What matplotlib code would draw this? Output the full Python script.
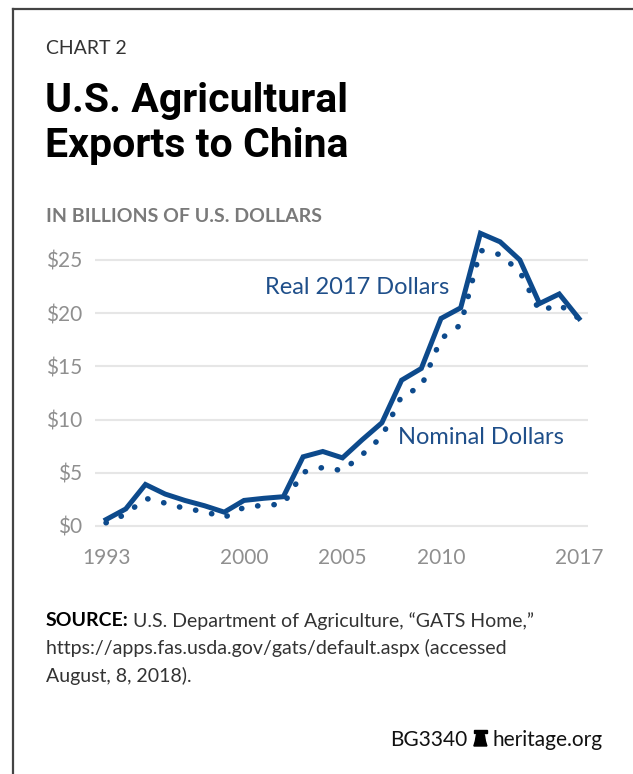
import matplotlib
matplotlib.use("Agg")
import matplotlib.pyplot as plt
from matplotlib import font_manager
from matplotlib.lines import Line2D
from matplotlib.patches import Polygon

# Data (billions of U.S. dollars)
years = list(range(1993, 2018))
real_2017 = [0.6, 1.6, 3.9, 3.0, 2.4, 1.9, 1.3, 2.4, 2.6, 2.75, 6.5, 7.0, 6.4, 8.1, 9.7,
             13.7, 14.8, 19.5, 20.5, 27.5, 26.7, 25.0, 20.9, 21.8, 19.5]
nominal = [0.3, 1.1, 2.6, 2.15, 1.65, 1.35, 0.8, 1.75, 1.95, 2.05, 5.05, 5.5, 5.2, 6.7, 8.4,
           12.2, 13.1, 17.6, 18.9, 25.9, 25.5, 23.9, 20.2, 20.8, 19.5]
y_ticks = [0, 5, 10, 15, 20, 25]
y_labels = ["$0", "$5", "$10", "$15", "$20", "$25"]
x_ticks = [1993, 2000, 2005, 2010, 2017]

installed = {f.name for f in font_manager.fontManager.ttflist}


def pick(*names):
    for n in names:
        if n in installed:
            return n
    return "DejaVu Sans"


BODY = pick("Lato", "Open Sans", "Roboto")
TITLE = pick("Liberation Sans Narrow", "Roboto", "Lato")
BLUE = "#0d4a8c"
GREY = "#8f8f8f"
TXT = "#333333"

W, H = 633, 774
fig = plt.figure(figsize=(W / 100, H / 100), dpi=100)
fig.patch.set_facecolor("white")


def fx(px):
    return px / W


def fy(py):
    return 1 - py / H


# frame (left and top edges only)
fig.add_artist(Line2D([fx(13), fx(13)], [fy(9), 0], color="#444444", lw=1.6))
fig.add_artist(Line2D([fx(13), 1], [fy(9), fy(9)], color="#444444", lw=1.6))

fig.text(fx(46), fy(49), "CHART 2", fontsize=14, family=BODY,
         color=TXT, va="center")
fig.text(fx(45), fy(112), "U.S. Agricultural", fontsize=29.5, family=TITLE, weight="bold",
         color="black", va="baseline")
fig.text(fx(45), fy(157), "Exports to China", fontsize=29.5, family=TITLE, weight="bold",
         color="black", va="baseline")
fig.text(fx(46), fy(216), "IN BILLIONS OF U.S. DOLLARS", fontsize=14, family=BODY,
         weight="bold", color="#7a7a7a", va="center")

# plot area
ax = fig.add_axes([fx(95), 1 - 531.3 / H, 493 / W, 303.3 / H])
ax.set_xlim(1992.44, 2017.46)
ax.set_ylim(-0.5, 28)
for s in ax.spines.values():
    s.set_visible(False)
ax.set_yticks(y_ticks)
ax.set_yticklabels(y_labels)
ax.set_xticks(x_ticks)
ax.grid(axis="y", color="#e6e6e6", lw=1.5)
ax.set_axisbelow(True)
ax.tick_params(length=0, colors=GREY, labelsize=15)
ax.tick_params(axis="y", pad=9)
ax.tick_params(axis="x", pad=12)
for lab in ax.get_xticklabels() + ax.get_yticklabels():
    lab.set_family(BODY)

ax.plot(years, real_2017, color=BLUE, lw=3.6, solid_joinstyle="miter", clip_on=False)
ax.plot(years, nominal, color=BLUE, lw=4.0, linestyle=(0, (0.05, 2.9)),
        dash_capstyle="round", clip_on=False)

fig.text(fx(265), fy(287), "Real 2017 Dollars", fontsize=17, family=BODY,
         color="#1f4f8a", va="center")
fig.text(fx(398), fy(437), "Nominal Dollars", fontsize=17, family=BODY,
         color="#1f4f8a", va="center")

# source note
fig.canvas.draw()
r = fig.canvas.get_renderer()
src = fig.text(fx(46), fy(621), "SOURCE:", fontsize=14, family=BODY, weight="bold",
               color="black", va="center")
bb = src.get_window_extent(r)
fig.text(bb.x1 / W + fx(4), fy(621), "U.S. Department of Agriculture, \u201cGATS Home,\u201d",
         fontsize=14, family=BODY, color=TXT, va="center")
fig.text(fx(46), fy(648), "https://apps.fas.usda.gov/gats/default.aspx (accessed",
         fontsize=14, family=BODY, color=TXT, va="center")
fig.text(fx(46), fy(676), "August, 8, 2018).",
         fontsize=14, family=BODY, color=TXT, va="center")

# footer with a small bell mark
her = fig.text(fx(603), fy(746), "heritage.org", fontsize=15, family=BODY, color="#111111",
               ha="right", va="baseline")
hx = her.get_window_extent(r).x0
bx0 = hx - 6 - 13
bell = [(bx0, 746), (bx0 + 13, 746), (bx0 + 11.5, 741), (bx0 + 10.5, 735), (bx0 + 9, 733),
        (bx0 + 4, 733), (bx0 + 2.5, 735), (bx0 + 1.5, 741)]
fig.add_artist(Polygon([(fx(a), fy(b)) for a, b in bell], closed=True,
                       transform=fig.transFigure, color="black"))
fig.add_artist(Polygon([(fx(a), fy(b)) for a, b in
                        [(bx0, 730), (bx0 + 13, 730), (bx0 + 13, 732.5), (bx0, 732.5)]],
                       closed=True, transform=fig.transFigure, color="black"))
fig.text(fx(bx0 - 7), fy(746), "BG3340", fontsize=15, family=BODY, color="#111111",
         ha="right", va="baseline")

fig.savefig("out.png", dpi=100)
